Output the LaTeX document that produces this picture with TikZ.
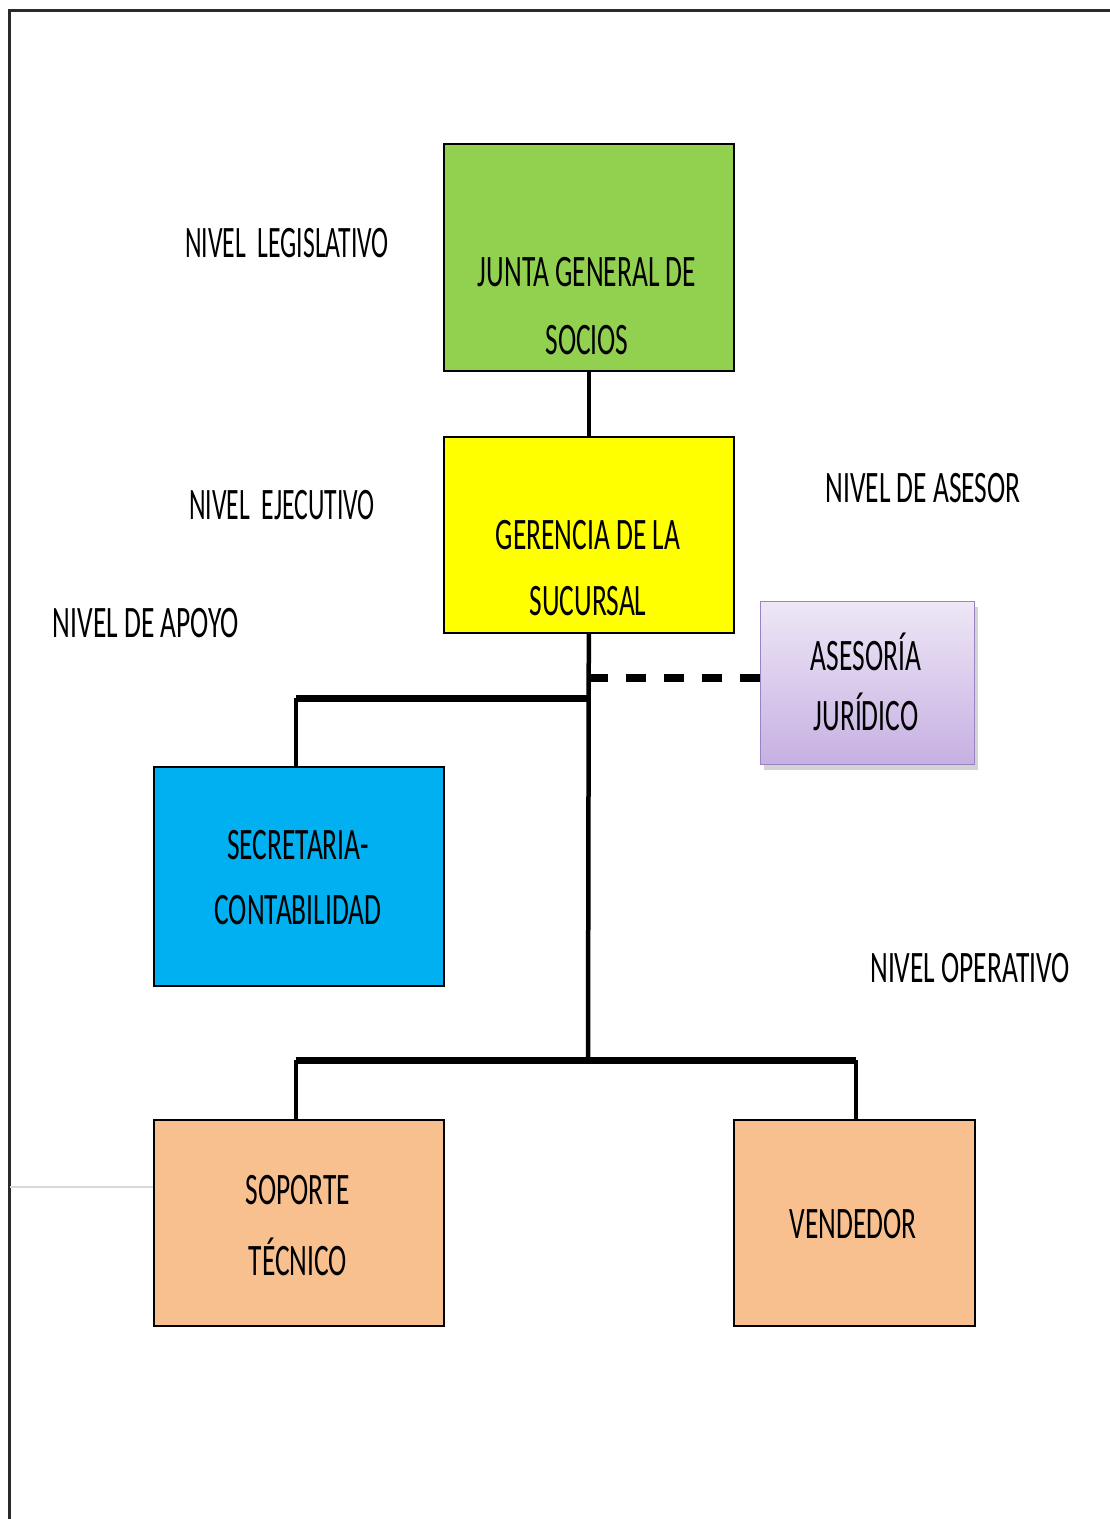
\documentclass[tikz,border=0pt]{standalone}
\usepackage{fontspec}
\setmainfont[FakeStretch=0.61]{Carlito}
\newfontfamily\narrowfont[FakeStretch=0.57]{Carlito}
\usetikzlibrary{shadows}

\definecolor{juntagreen}{HTML}{92D050}
\definecolor{gerenyellow}{HTML}{FFFF00}
\definecolor{secblue}{HTML}{00B0F0}
\definecolor{operorange}{HTML}{F8BF8F}
\definecolor{asetop}{HTML}{EEE7F6}
\definecolor{asebottom}{HTML}{C6B0E2}
\definecolor{aseborder}{HTML}{9B82C2}
\definecolor{framegray}{HTML}{2A2A2A}
\definecolor{guidegray}{HTML}{D9D9D9}

\begin{document}
\begin{tikzpicture}[x=1pt,y=-1pt,
  orgbox/.style={draw=black, line width=1.6pt, inner sep=0pt, anchor=north west},
  boxtext/.style={inner sep=0pt, align=center, font=\fontsize{45}{54}\selectfont},
  leveltext/.style={inner sep=0pt, font=\fontsize{45}{54}\selectfont},
  conn/.style={draw=black, line width=4.5pt},
  branch/.style={draw=black, line width=7pt},
  advisory/.style={draw=black, line width=8pt, dash pattern=on 20pt off 18pt}
]
\useasboundingbox (0,0) rectangle (1110,1519);

% page frame (left and top edges) and guide line
\draw[framegray, line width=3pt] (9,1519) -- (9,10) -- (1110,10);
\draw[guidegray, line width=2pt] (10,1187) -- (153,1187);

% level labels
\node[leveltext] (lvl-leg) at (287,243) {\narrowfont NIVEL\ \ LEGISLATIVO};
\node[leveltext] (lvl-eje) at (282,505) {\narrowfont NIVEL\ \ EJECUTIVO};
\node[leveltext] (lvl-ase) at (923,488) {NIVEL DE ASESOR};
\node[leveltext] (lvl-apo) at (146,623) {NIVEL DE APOYO};
\node[leveltext] (lvl-ope) at (970,968) {NIVEL OPERATIVO};

% boxes
\node[orgbox, fill=juntagreen, minimum width=290, minimum height=227] (junta) at (443,143) {};
\node[orgbox, fill=gerenyellow, minimum width=290, minimum height=196] (geren) at (443,436) {};
\node[orgbox, draw=aseborder, line width=1.4pt, top color=asetop, bottom color=asebottom,
      drop shadow={opacity=0.35, shadow xshift=3pt, shadow yshift=-5pt},
      minimum width=214, minimum height=163] (asesor) at (760,601) {};
\node[orgbox, fill=secblue, minimum width=290, minimum height=219] (secre) at (153,766) {};
\node[orgbox, fill=operorange, minimum width=290, minimum height=206] (soporte) at (153,1119) {};
\node[orgbox, fill=operorange, minimum width=241, minimum height=206] (vende) at (733,1119) {};

% box texts
\node[boxtext] (junta-t1) at (587,272) {JUNTA GENERAL DE};
\node[boxtext] (junta-t2) at (587,340) {SOCIOS};
\node[boxtext] (geren-t1) at (588,535) {GERENCIA DE LA};
\node[boxtext] (geren-t2) at (588,601) {SUCURSAL};
\node[boxtext] (asesor-t1) at (866,652) {ASESORÍA};
\node[boxtext] (asesor-t2) at (866,712) {JURÍDICO};
\node[boxtext] (secre-t1) at (298,845) {SECRETARIA-};
\node[boxtext] (secre-t2) at (298,910) {CONTABILIDAD};
\node[boxtext] (soporte-t1) at (298,1190) {SOPORTE};
\node[boxtext] (soporte-t2) at (298,1257) {TÉCNICO};
\node[boxtext] (vende-t) at (853,1224) {VENDEDOR};

% junction points of the connectors
\coordinate (advise) at (588,678);
\coordinate (busA) at (588,698);
\coordinate (busB) at (588,1060);
\coordinate (leftdrop) at (296,0);
\coordinate (rightdrop) at (856,0);

% connectors
\draw[conn] (junta.south) -- (geren.north);
\draw[conn] (geren.south) -- (busB);
\draw[advisory] (advise) -- (asesor.west |- advise);
\draw[branch] (busA) -- (leftdrop |- busA);
\draw[conn] (leftdrop |- busA) -- (leftdrop |- secre.north);
\draw[branch] (leftdrop |- busB) -- (rightdrop |- busB);
\draw[conn] (leftdrop |- busB) -- (leftdrop |- soporte.north);
\draw[conn] (rightdrop |- busB) -- (rightdrop |- vende.north);
\end{tikzpicture}
\end{document}
